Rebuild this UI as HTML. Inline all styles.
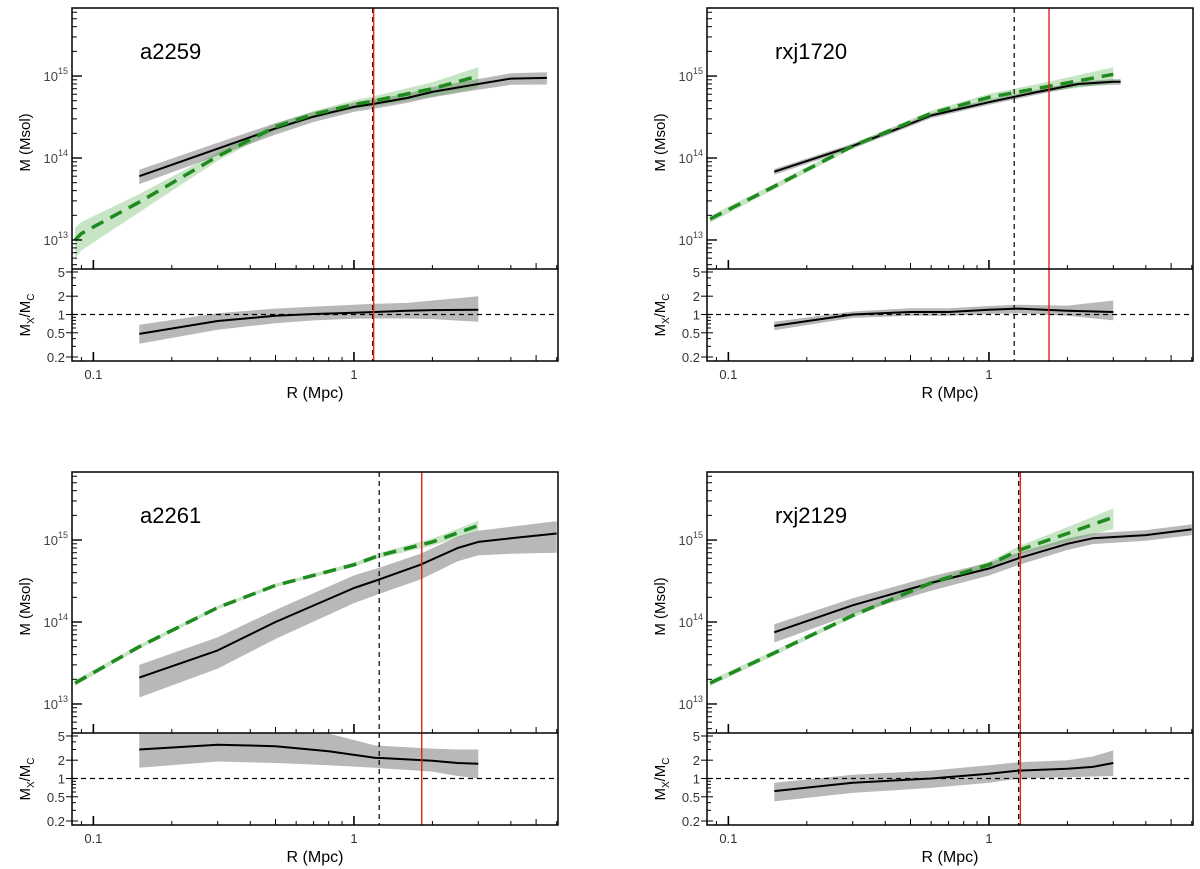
<!DOCTYPE html>
<html><head><meta charset="utf-8"><style>
body{margin:0;background:#fff;}
svg{display:block;font-family:"Liberation Sans",sans-serif;}
</style></head><body>
<svg id="fig" width="1200" height="869" viewBox="0 0 1200 869" xmlns="http://www.w3.org/2000/svg"></svg>
<script>
// ---- data (R in Mpc) ----
const a2259_blackR=[0.15,0.3,0.5,0.7,1,1.2,1.6,2,3,4,5.5];
const a2259_blackM=[6e13,1.3e14,2.3e14,3.2e14,4.2e14,4.6e14,5.4e14,6.4e14,8e14,9.3e14,9.5e14];
const a2259_blackErr=[0.2,0.18,0.16,0.14,0.13,0.13,0.13,0.14,0.15,0.16,0.17];
const a2259_greenR=[0.085,0.09,0.15,0.3,0.5,0.7,1,1.2,2,3];
const a2259_greenM=[1.0e13,1.2e13,2.9e13,1.05e14,2.4e14,3.4e14,4.5e14,5.0e14,7.0e14,1.0e15];
const a2259_greenErr=[0.4,0.38,0.25,0.12,0.1,0.1,0.12,0.14,0.2,0.28];
const a2259_ratio=[0.48,0.78,0.95,1.02,1.07,1.1,1.15,1.18,1.2];
const a2259_ratioLo=[0.33,0.56,0.72,0.8,0.85,0.86,0.86,0.84,0.76];
const a2259_ratioHi=[0.68,1.05,1.25,1.35,1.45,1.5,1.55,1.7,2.0];
const a2259_ratioR=[0.15,0.3,0.5,0.7,1,1.2,1.6,2,3];
const a2259_vlines=[1.18,1.19];

const rxj1720_blackR=[0.15,0.3,0.45,0.6,1,1.5,2.2,3,3.2];
const rxj1720_blackM=[6.8e13,1.4e14,2.3e14,3.3e14,4.8e14,6.3e14,8e14,8.5e14,8.5e14];
const rxj1720_blackErr=[0.08,0.07,0.07,0.07,0.07,0.07,0.07,0.08,0.08];
const rxj1720_greenR=[0.085,0.15,0.3,0.6,1,1.7,3];
const rxj1720_greenM=[1.8e13,4.5e13,1.4e14,3.5e14,5.5e14,7.5e14,1.05e15];
const rxj1720_greenErr=[0.1,0.08,0.07,0.08,0.1,0.14,0.22];
const rxj1720_ratioR=[0.15,0.3,0.5,0.7,1,1.3,2,3];
const rxj1720_ratio=[0.65,1.0,1.1,1.1,1.2,1.25,1.15,1.1];
const rxj1720_ratioLo=[0.55,0.88,0.95,0.95,1.02,1.05,0.95,0.8];
const rxj1720_ratioHi=[0.76,1.12,1.27,1.27,1.38,1.45,1.4,1.7];
const rxj1720_vlines=[1.25,1.7];

const a2261_blackR=[0.15,0.3,0.5,1,1.25,1.8,2.5,3,4,6];
const a2261_blackM=[2.1e13,4.5e13,1.0e14,2.6e14,3.3e14,5.0e14,8.0e14,9.5e14,1.05e15,1.2e15];
const a2261_blackLo=[1.2e13,2.7e13,6.2e13,1.7e14,2.2e14,3.3e14,5.5e14,6.5e14,6.8e14,7.0e14];
const a2261_blackHi=[3.0e13,6.5e13,1.4e14,3.7e14,4.6e14,6.8e14,1.1e15,1.3e15,1.45e15,1.7e15];
const a2261_greenR=[0.085,0.15,0.3,0.5,1,1.25,2,3];
const a2261_greenM=[1.8e13,5e13,1.5e14,2.8e14,5e14,6.5e14,9.5e14,1.5e15];
const a2261_greenErr=[0.08,0.06,0.05,0.05,0.06,0.07,0.1,0.14];
const a2261_ratioR=[0.15,0.3,0.5,0.8,1.2,2,2.5,3];
const a2261_ratio=[3.0,3.6,3.4,2.8,2.2,1.95,1.8,1.75];
const a2261_ratioLo=[1.5,1.9,1.8,1.65,1.5,1.3,1.1,1.0];
const a2261_ratioHi=[6,7,7,5.5,3.5,3.1,3.0,3.0];
const a2261_vlines=[1.25,1.82];

const rxj2129_blackR=[0.15,0.3,0.6,1,1.3,2,2.5,4,6];
const rxj2129_blackM=[7.5e13,1.6e14,3.0e14,4.5e14,6.0e14,9.0e14,1.05e15,1.15e15,1.35e15];
const rxj2129_blackErr=[0.25,0.22,0.2,0.18,0.17,0.16,0.15,0.15,0.15];
const rxj2129_greenR=[0.085,0.15,0.3,0.6,1,1.3,2,3];
const rxj2129_greenM=[1.8e13,4.2e13,1.2e14,3.0e14,5.0e14,7.5e14,1.2e15,1.9e15];
const rxj2129_greenErr=[0.08,0.07,0.06,0.07,0.09,0.12,0.2,0.28];
const rxj2129_ratioR=[0.15,0.3,0.6,1,1.3,2,2.5,3];
const rxj2129_ratio=[0.62,0.85,1.0,1.2,1.35,1.45,1.55,1.8];
const rxj2129_ratioLo=[0.42,0.58,0.7,0.85,1.0,1.05,1.08,1.1];
const rxj2129_ratioHi=[0.85,1.15,1.35,1.65,1.85,2.0,2.3,2.9];
const rxj2129_vlines=[1.3,1.32];

const xTickLabels=["0.1","1"];
const ratioTicks=[5,2,1,0.5,0.2];

// ---- drawing ----
const NS="http://www.w3.org/2000/svg";
const svg=document.getElementById('fig');
function mk(tag,attrs,parent){const e=document.createElementNS(NS,tag);for(const k in attrs)e.setAttribute(k,attrs[k]);(parent||svg).appendChild(e);return e;}
const L10=Math.log10;

function panel(ox,oy,name,d,idx){
  const left=ox, right=ox+486, top=oy+8, split=oy+269, bottom=oy+361;
  const xmin=-1.082, xmax=0.783;
  const ymin=12.646, ymax=15.83;
  const rmin=-0.765, rmax=0.748;
  const X=r=>left+(L10(r)-xmin)/(xmax-xmin)*(right-left);
  const Y=m=>split-(L10(m)-ymin)/(ymax-ymin)*(split-top);
  const RY=v=>bottom-(L10(v)-rmin)/(rmax-rmin)*(bottom-split);
  const g=mk('g',{});
  
  
  const cid='c'+idx, cid2='r'+idx;
  const defs=mk('defs',{},g);
  const cp=mk('clipPath',{id:cid},defs); mk('rect',{x:left,y:top,width:right-left,height:split-top},cp);
  const cp2=mk('clipPath',{id:cid2},defs); mk('rect',{x:left,y:split,width:right-left,height:bottom-split},cp2);
  const main=mk('g',{'clip-path':`url(#${cid})`},g);
  const rat=mk('g',{'clip-path':`url(#${cid2})`},g);
  const line=(xs,ys,fy)=>xs.map((r,i)=>(i?'L':'M')+X(r).toFixed(1)+','+fy(ys[i]).toFixed(1)).join('');
  const band=(xs,lo,hi,fy)=>{let s='';xs.forEach((r,i)=>s+=(i?'L':'M')+X(r).toFixed(1)+','+fy(hi[i]).toFixed(1));for(let i=xs.length-1;i>=0;i--)s+='L'+X(xs[i]).toFixed(1)+','+fy(lo[i]).toFixed(1);return s+'Z';};
  const bLo=d.bLo||d.bM.map((m,i)=>m*(1-d.bE[i])), bHi=d.bHi||d.bM.map((m,i)=>m*(1+d.bE[i]));
  let e;
  e=mk('path',{d:band(d.bR,bLo,bHi,Y),fill:'#b8b8b8'},main);  
  e=mk('path',{d:band(d.gR,d.gM.map((m,i)=>m*(1-d.gE[i])),d.gM.map((m,i)=>m*(1+d.gE[i])),Y),fill:'rgb(70,170,60)','fill-opacity':0.3},main);  
  e=mk('path',{d:line(d.bR,d.bM,Y),fill:'none',stroke:'#000','stroke-width':2,'stroke-linejoin':'round'},main);  
  e=mk('path',{d:line(d.gR,d.gM,Y),fill:'none',stroke:'#1f8a1f','stroke-width':3.5,'stroke-dasharray':'13,8'},main);  
  e=mk('path',{d:band(d.rR,d.rLo,d.rHi,RY),fill:'#b8b8b8'},rat);  
  e=mk('line',{x1:left,x2:right,y1:RY(1),y2:RY(1),stroke:'#000','stroke-width':1.2,'stroke-dasharray':'5,4'},rat);  
  e=mk('path',{d:line(d.rR,d.r,RY),fill:'none',stroke:'#000','stroke-width':2,'stroke-linejoin':'round'},rat);  
  e=mk('line',{x1:X(d.v[0]),x2:X(d.v[0]),y1:top,y2:bottom,stroke:'#000','stroke-width':1.2,'stroke-dasharray':'5,4'},g);  
  e=mk('line',{x1:X(d.v[1]),x2:X(d.v[1]),y1:top,y2:bottom,stroke:'#e8201a','stroke-width':1.4},g);  
  mk('rect',{x:left,y:top,width:right-left,height:bottom-top,fill:'none',stroke:'#000','stroke-width':1.5},g);
  mk('line',{x1:left,x2:right,y1:split,y2:split,stroke:'#000','stroke-width':1.5},g);
  const xt=[0.09,0.1,0.2,0.3,0.4,0.5,0.6,0.7,0.8,0.9,1,2,3,4,5,6];
  xt.forEach(r=>{const x=X(r);if(x<left||x>right)return;const maj=(r===0.1||r===1);const len=maj?9:(r===0.5||r===5?6:4);
    mk('line',{x1:x,x2:x,y1:bottom,y2:bottom-len,stroke:'#000','stroke-width':maj?1.6:1},g);
    mk('line',{x1:x,x2:x,y1:split,y2:split-len,stroke:'#000','stroke-width':maj?1.6:1},g);});
  [0.1,1].forEach((r,i)=>{const t=mk('text',{x:X(r),y:bottom+18,'font-size':13,fill:'#333','text-anchor':'middle'},g);t.textContent=xTickLabels[i];});
  let t=mk('text',{x:(left+right)/2,y:bottom+37,'font-size':16,fill:'#000','text-anchor':'middle'},g);t.textContent='R  (Mpc)';
  for(let p=12;p<=15;p++)for(let k=1;k<10;k++){const m=k*Math.pow(10,p);const y=Y(m);if(y<top||y>split)continue;
    mk('line',{x1:left,x2:left+(k===1?10:5),y1:y,y2:y,stroke:'#000','stroke-width':k===1?1.4:1},g);
    if(k===1){const tt=mk('text',{x:left-4,y:y+5,'font-size':13,fill:'#444','text-anchor':'end'},g);tt.textContent='10';const s=mk('tspan',{'font-size':9,dy:-7},tt);s.textContent=String(p);}}
  [0.2,0.3,0.4,0.5,0.6,0.7,0.8,0.9,1,2,3,4,5].forEach(v=>{const y=RY(v);const maj=ratioTicks.indexOf(v)>=0;mk('line',{x1:left-(maj?6:0),x2:left+(maj?6:4),y1:y,y2:y,stroke:'#000','stroke-width':1},g);});
  ratioTicks.forEach(v=>{const tt=mk('text',{x:left-7,y:RY(v)+5,'font-size':13,fill:'#333','text-anchor':'end'},g);tt.textContent=String(v);});
  t=mk('text',{x:0,y:0,'font-size':15,fill:'#000','text-anchor':'middle',transform:`translate(${left-42},${(top+split)/2+4}) rotate(-90)`},g);t.textContent='M  (Msol)';
  t=mk('text',{x:0,y:0,'font-size':15,fill:'#000','text-anchor':'middle',transform:`translate(${left-42},${(split+bottom)/2}) rotate(-90)`},g);
  
  t.appendChild(document.createTextNode('M'));let s=mk('tspan',{'font-size':10,dy:4},t);s.textContent='X';
  s=mk('tspan',{dy:-4},t);s.textContent='/M';s=mk('tspan',{'font-size':10,dy:4},t);s.textContent='C';
  t=mk('text',{x:left+68,y:top+51,'font-size':22,fill:'#000'},g);t.textContent=name;
}
panel(72,0,'a2259',{bR:a2259_blackR,bM:a2259_blackM,bE:a2259_blackErr,gR:a2259_greenR,gM:a2259_greenM,gE:a2259_greenErr,rR:a2259_ratioR,r:a2259_ratio,rLo:a2259_ratioLo,rHi:a2259_ratioHi,v:a2259_vlines},0);
panel(707,0,'rxj1720',{bR:rxj1720_blackR,bM:rxj1720_blackM,bE:rxj1720_blackErr,gR:rxj1720_greenR,gM:rxj1720_greenM,gE:rxj1720_greenErr,rR:rxj1720_ratioR,r:rxj1720_ratio,rLo:rxj1720_ratioLo,rHi:rxj1720_ratioHi,v:rxj1720_vlines},1);
panel(72,464,'a2261',{bR:a2261_blackR,bM:a2261_blackM,bLo:a2261_blackLo,bHi:a2261_blackHi,gR:a2261_greenR,gM:a2261_greenM,gE:a2261_greenErr,rR:a2261_ratioR,r:a2261_ratio,rLo:a2261_ratioLo,rHi:a2261_ratioHi,v:a2261_vlines},2);
panel(707,464,'rxj2129',{bR:rxj2129_blackR,bM:rxj2129_blackM,bE:rxj2129_blackErr,gR:rxj2129_greenR,gM:rxj2129_greenM,gE:rxj2129_greenErr,rR:rxj2129_ratioR,r:rxj2129_ratio,rLo:rxj2129_ratioLo,rHi:rxj2129_ratioHi,v:rxj2129_vlines},3);
</script>
</body></html>
